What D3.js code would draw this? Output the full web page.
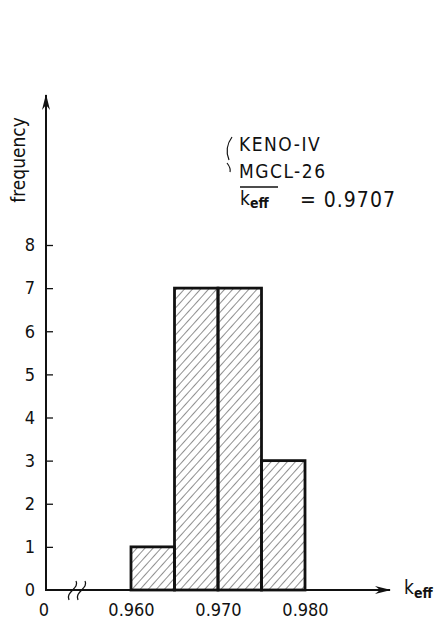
<!DOCTYPE html>
<html>
<head>
<meta charset="utf-8">
<script src="https://cdn.jsdelivr.net/npm/d3@7"></script>
<style>
  body { margin: 0; background: #fff; }
  svg text { font-family: "DejaVu Sans Condensed", "Liberation Sans Narrow", sans-serif; fill: #111; }
</style>
</head>
<body>
<div id="chart"></div>
<script>
// histogram of k_eff values
var binStarts = [0.960, 0.965, 0.970, 0.975];
var binWidth = 0.005;
var counts = [1, 7, 7, 3];
var yTicks = [0, 1, 2, 3, 4, 5, 6, 7, 8];
var xTicks = [0.960, 0.970, 0.980];
var xTickLabels = ["0.960", "0.970", "0.980"];
var notes = ["KENO-IV", "MGCL-26"];
var meanKeff = "0.9707";

var width = 441, height = 623;
var font = "DejaVu Sans Condensed, Liberation Sans Narrow, sans-serif";

var svg = d3.select("#chart").append("svg")
  .attr("width", width)
  .attr("height", height);

var defs = svg.append("defs");

// diagonal hatching
defs.append("pattern")
  .attr("id", "hatch")
  .attr("patternUnits", "userSpaceOnUse")
  .attr("width", 6)
  .attr("height", 6)
  .attr("patternTransform", "rotate(42)")
  .append("line")
    .attr("x1", 0).attr("y1", 0)
    .attr("x2", 0).attr("y2", 6)
    .attr("stroke", "#222")
    .attr("stroke-width", 1);

defs.append("marker")
  .attr("id", "arrow")
  .attr("viewBox", "0 0 16 8")
  .attr("refX", 15).attr("refY", 4)
  .attr("markerWidth", 16).attr("markerHeight", 8)
  .attr("markerUnits", "userSpaceOnUse")
  .attr("orient", "auto")
  .append("path")
    .attr("d", "M0,0 L16,4 L0,8 L5,4 Z")
    .attr("fill", "#111");

var x = d3.scaleLinear().domain([0.960, 0.980]).range([131, 305]);
var y = d3.scaleLinear().domain([0, 8]).range([590, 245]);
var x0 = 46;

// bars
svg.append("g")
  .selectAll("rect")
  .data(binStarts)
  .enter()
  .append("rect")
  .attr("x", function (d) { return x(d); })
  .attr("y", function (d, i) { return y(counts[i]); })
  .attr("width", function (d) { return x(d + binWidth) - x(d); })
  .attr("height", function (d, i) { return y(0) - y(counts[i]); })
  .attr("fill", "url(#hatch)")
  .attr("stroke", "#111")
  .attr("stroke-width", 2.8);

// y axis ticks + labels
var yAxis = svg.append("g")
  .attr("transform", "translate(" + x0 + ",0)")
  .call(d3.axisLeft(y).tickValues(yTicks).tickFormat(d3.format("d"))
    .tickSizeInner(-7).tickSizeOuter(0).tickPadding(11));
yAxis.select(".domain").remove();
yAxis.selectAll(".tick line").filter(function (d) { return d === 0; }).remove();
yAxis.selectAll("line").attr("stroke", "#111").attr("stroke-width", 1.3);
yAxis.selectAll("text").attr("font-size", 18)
  .attr("font-family", font)
  .attr("fill", "#111");

// x axis labels
var xAxis = svg.append("g")
  .attr("transform", "translate(0," + y(0) + ")")
  .call(d3.axisBottom(x).tickValues(xTicks)
    .tickFormat(function (d, i) { return xTickLabels[i]; })
    .tickSize(0).tickPadding(13));
xAxis.select(".domain").remove();
xAxis.selectAll("text").attr("font-size", 18)
  .attr("font-family", font)
  .attr("fill", "#111");

// axis lines with arrows
svg.append("line")
  .attr("x1", x0).attr("y1", y(0) + 1)
  .attr("x2", x0).attr("y2", 95)
  .attr("stroke", "#111").attr("stroke-width", 2)
  .attr("marker-end", "url(#arrow)");

svg.append("line")
  .attr("x1", x0 - 1).attr("y1", y(0))
  .attr("x2", 390).attr("y2", y(0))
  .attr("stroke", "#111").attr("stroke-width", 2)
  .attr("marker-end", "url(#arrow)");

// axis break marks
[73, 82].forEach(function (bx) {
  svg.append("path")
    .attr("d", "M" + (bx - 4) + "," + (y(0) + 10) + " C" + (bx - 8) + "," + (y(0) + 2) + " " + (bx + 7) + "," + (y(0) - 2) + " " + (bx + 3) + "," + (y(0) - 9))
    .attr("fill", "none")
    .attr("stroke", "#111")
    .attr("stroke-width", 1.3);
});

// origin label for x
svg.append("text")
  .attr("x", 44).attr("y", 616)
  .attr("text-anchor", "middle")
  .attr("font-size", 18)
  .text("0");

// axis titles
svg.append("text")
  .attr("transform", "translate(25,160) rotate(-90)")
  .attr("text-anchor", "middle")
  .attr("font-size", 19)
  .text("frequency");

var kx = svg.append("text")
  .attr("x", 404).attr("y", 594)
  .attr("font-size", 19);
kx.append("tspan").text("k");
kx.append("tspan").attr("font-size", 14).attr("dy", 4).attr("font-weight", "bold").text("eff");

// annotation block
svg.append("path")
  .attr("d", "M232,137 Q224,148 229,160")
  .attr("fill", "none").attr("stroke", "#111").attr("stroke-width", 1.2);
svg.append("path")
  .attr("d", "M227,163 Q231,168 230,172")
  .attr("fill", "none").attr("stroke", "#111").attr("stroke-width", 1.2);

svg.selectAll(".note")
  .data(notes)
  .enter()
  .append("text")
  .attr("class", "note")
  .attr("x", 239)
  .attr("y", function (d, i) { return 151 + i * 27; })
  .attr("font-size", 19)
  .attr("letter-spacing", 1.5)
  .text(function (d) { return d; });

svg.append("line")
  .attr("x1", 240).attr("x2", 278)
  .attr("y1", 187).attr("y2", 187)
  .attr("stroke", "#111").attr("stroke-width", 1.4);

var mk = svg.append("text")
  .attr("x", 240).attr("y", 205)
  .attr("font-size", 19);
mk.append("tspan").text("k");
mk.append("tspan").attr("font-size", 14).attr("dy", 3).attr("font-weight", "bold").text("eff");

svg.append("text")
  .attr("x", 300).attr("y", 207)
  .attr("font-size", 21)
  .attr("letter-spacing", 1)
  .text("= " + meanKeff);
</script>
</body>
</html>
